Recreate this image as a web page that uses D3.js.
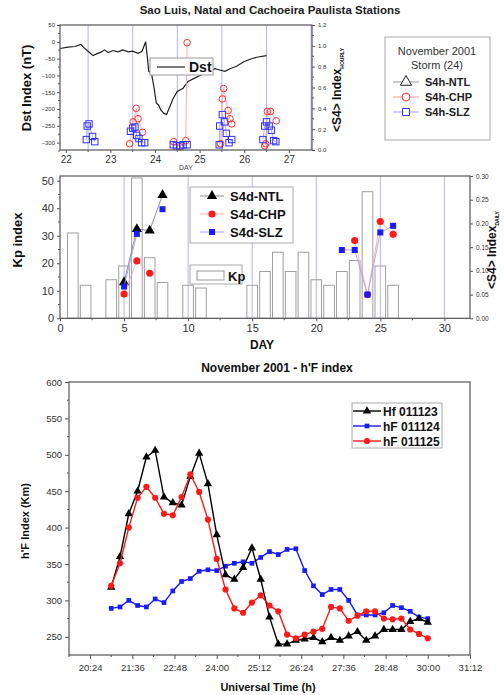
<!DOCTYPE html>
<html>
<head>
<meta charset="utf-8">
<script src="https://cdn.jsdelivr.net/npm/d3@7"></script>
<style>
body { margin: 0; background: #fff; }
svg { font-family: "Liberation Sans", Arial, sans-serif; }
</style>
</head>
<body>
<svg id="chart" width="504" height="695"></svg>
<script>
// ---------- panel 1: Dst and hourly S4, 22-27 Nov 2001 ----------
const dst = [[21.87,-20],[22.05,-16],[22.2,-14],[22.34,-8],[22.41,-18],[22.5,-28],[22.61,-41],[22.69,-36],
  [22.8,-30],[22.87,-24],[22.95,-32],[23.06,-26],[23.17,-30],[23.28,-24],[23.4,-30],[23.5,-28],[23.62,-34],
  [23.71,-28],[23.79,0],[23.83,-48],[23.86,-88],[23.92,-93],[23.98,-138],[24.03,-183],[24.08,-188],[24.13,-203],
  [24.2,-213],[24.26,-216],[24.33,-193],[24.41,-168],[24.5,-148],[24.63,-138],[24.74,-118],[24.89,-108],
  [25.04,-98],[25.2,-90],[25.34,-80],[25.45,-84],[25.57,-88],[25.68,-80],[25.83,-73],[25.98,-60],[26.13,-52],
  [26.28,-46],[26.5,-41]];
const s4hChp = [[23.43,0.06],[23.51,0.27],[23.58,0.40],[23.62,0.30],[23.72,0.17],
  [24.42,0.08],[24.56,0.03],[24.69,0.09],[24.72,1.03],
  [25.47,0.06],[25.51,0.49],[25.54,0.59],[25.64,0.38],[25.68,0.30],[25.72,0.25],
  [26.46,0.04],[26.48,0.06],[26.52,0.37],[26.59,0.37],[26.72,0.28]];
const s4hSlz = [[22.46,0.10],[22.48,0.23],[22.52,0.25],[22.6,0.13],[22.65,0.08],
  [23.45,0.18],[23.5,0.21],[23.55,0.22],[23.59,0.14],[23.64,0.11],[23.7,0.07],[23.77,0.07],
  [24.41,0.05],[24.48,0.04],[24.56,0.04],[24.63,0.05],[24.72,0.05],
  [25.44,0.05],[25.45,0.23],[25.51,0.34],[25.56,0.27],[25.6,0.16],[25.66,0.07],[25.72,0.10],
  [26.42,0.10],[26.46,0.23],[26.5,0.27],[26.56,0.23],[26.61,0.19],[26.66,0.09],[26.71,0.08]];
const nightLines1 = [22.5, 23.5, 24.5, 25.5, 26.5, 27.5];

// ---------- panel 2: Kp and daily S4, November 2001 ----------
const kpDays = [1, 2, 4, 5, 6, 7, 8, 10, 11, 15, 16, 17, 18, 19, 20, 21, 22, 23, 24, 25, 26];
const kpVals = [31, 12, 14, 19, 51, 22, 13, 12, 11, 12, 17, 24, 17, 24, 14, 12, 17, 21, 46, 19, 12];
const s4dDays = [5, 6, 7, 8, 22, 23, 24, 25, 26];
const s4dNtl = [0.076, 0.188, 0.185, 0.26, null, null, null, null, null];
const s4dChp = [0.051, 0.121, 0.095, null, null, 0.164, 0.05, 0.204, 0.177];
const s4dSlz = [0.067, 0.178, null, 0.23, 0.144, 0.144, 0.05, 0.181, 0.195];
const nightLines2 = [5, 10, 15, 20, 25, 30];

// ---------- panel 3: h'F, 15 min steps ----------
const hfHours = [21, 21.25, 21.5, 21.75, 22, 22.25, 22.5, 22.75, 23, 23.25, 23.5, 23.75, 24, 24.25, 24.5,
  24.75, 25, 25.25, 25.5, 25.75, 26, 26.25, 26.5, 26.75, 27, 27.25, 27.5, 27.75, 28, 28.25, 28.5, 28.75,
  29, 29.25, 29.5, 29.75, 30];
const hf23 = [318, 360, 419, 450, 497, 506, 442, 434, 431, 470, 502, 460, 390, 335, 329, 345, 372, 329, 277,
  240, 240, 245, 247, 249, 243, 249, 245, 251, 257, 245, 251, 260, 260, 260, 271, 275, 270];
const hf24 = [289, 291, 300, 293, 291, 302, 297, 313, 326, 330, 340, 342, 341, 347, 351, 353, 351, 359, 367,
  363, 370, 371, 341, 320, 308, 315, 315, 300, 280, 280, 280, 283, 293, 290, 285, 277, 275];
const hf25 = [320, 351, 400, 441, 456, 441, 419, 417, 442, 473, 449, 411, 357, 315, 289, 283, 297, 307, 293,
  285, 253, 248, 253, 257, 261, 291, 289, 272, 279, 285, 285, 275, 274, 275, 260, 254, 248];
const hfTicks = [20.4, 21.6, 22.8, 24, 25.2, 26.4, 27.6, 28.8, 30, 31.2];
const hfTickLabels = ["20:24", "21:36", "22:48", "24:00", "25:12", "26:24", "27:36", "28:48", "30:00", "31:12"];

const svg = d3.select("#chart");
const frameColor = "#555";
const nightColor = "#b4b4ff";

function frame(l, t, r, b) {
  svg.append("rect").attr("x", l).attr("y", t).attr("width", r - l).attr("height", b - t)
    .attr("fill", "none").attr("stroke", frameColor).attr("stroke-width", 1.2);
}

function styleAxis(g, size) {
  g.select(".domain").remove();
  g.selectAll(".tick line").attr("stroke", frameColor);
  g.selectAll(".tick text").attr("fill", "#333").style("font-size", size + "px");
}

function minorTicks(orient, scale, values, pos, len) {
  const g = svg.append("g");
  values.forEach(v => {
    const p = scale(v);
    if (orient === "bottom") g.append("line").attr("x1", p).attr("x2", p).attr("y1", pos).attr("y2", pos + len);
    if (orient === "left") g.append("line").attr("y1", p).attr("y2", p).attr("x1", pos).attr("x2", pos - len);
    if (orient === "right") g.append("line").attr("y1", p).attr("y2", p).attr("x1", pos).attr("x2", pos + len);
  });
  g.selectAll("line").attr("stroke", frameColor);
}

function rotLabel(x, y, text, size, sub, subSize) {
  const t = svg.append("text").attr("transform", `translate(${x},${y}) rotate(-90)`)
    .attr("text-anchor", "middle").style("font-size", size + "px").style("font-weight", "bold").attr("fill", "#111");
  t.append("tspan").text(text);
  if (sub) t.append("tspan").attr("dy", 3).style("font-size", subSize + "px").text(sub);
}

function marker(g, type, x, y, size, fill, stroke) {
  const sym = type === "triangle" ? d3.symbolTriangle : type === "square" ? d3.symbolSquare : d3.symbolCircle;
  g.append("path").attr("d", d3.symbol().type(sym).size(size)())
    .attr("transform", `translate(${x},${y})`)
    .attr("fill", fill).attr("stroke", stroke).attr("stroke-width", 1);
}

// =============== PANEL 1 ===============
{
  const L = 60, R = 312, T = 25, B = 150;
  const x = d3.scaleLinear().domain([21.87, 27.52]).range([L, R]);
  const yD = d3.scaleLinear().domain([-322, 50]).range([B, T]);
  const yS = d3.scaleLinear().domain([0, 1.2]).range([B, T]);

  svg.selectAll(".n1").data(nightLines1).join("line")
    .attr("x1", d => x(d)).attr("x2", d => x(d)).attr("y1", T).attr("y2", B)
    .attr("stroke", nightColor).attr("stroke-width", 1);

  svg.append("path").datum(dst)
    .attr("d", d3.line().x(d => x(d[0])).y(d => yD(d[1])))
    .attr("fill", "none").attr("stroke", "#222").attr("stroke-width", 1.2);

  // connect hourly points inside each night
  const groupLine = (data, color) => {
    const line = d3.line().defined(d => d).x(d => x(d[0])).y(d => yS(d[1]));
    const pts = [];
    data.forEach((d, i) => {
      if (i > 0 && d[0] - data[i - 1][0] > 0.3) pts.push(null);
      pts.push(d);
    });
    svg.append("path").datum(pts).attr("d", line).attr("fill", "none")
      .attr("stroke", color).attr("stroke-width", 0.8);
  };
  groupLine(s4hChp, "#ff9999");
  groupLine(s4hSlz, "#9999ff");

  const gp = svg.append("g");
  s4hChp.forEach(d => gp.append("circle").attr("cx", x(d[0])).attr("cy", yS(d[1])).attr("r", 3.3)
    .attr("fill", "none").attr("stroke", "#ff3030").attr("stroke-width", 1));
  s4hSlz.forEach(d => gp.append("rect").attr("x", x(d[0]) - 3.2).attr("y", yS(d[1]) - 3.2)
    .attr("width", 6.4).attr("height", 6.4)
    .attr("fill", "none").attr("stroke", "#3030ff").attr("stroke-width", 1));

  frame(L, T, R, B);

  const ax = svg.append("g").attr("transform", `translate(0,${B})`)
    .call(d3.axisBottom(x).tickValues([22, 23, 24, 25, 26, 27]).tickFormat(d3.format("d")).tickSize(3).tickPadding(3));
  styleAxis(ax, 10);
  minorTicks("bottom", x, [22.5, 23.5, 24.5, 25.5, 26.5], B, 2);

  const ay = svg.append("g").attr("transform", `translate(${L},0)`)
    .call(d3.axisLeft(yD).tickValues(d3.range(-300, 51, 50)).tickSize(3).tickPadding(2));
  styleAxis(ay, 6);
  minorTicks("left", yD, d3.range(-325, 50, 50), L, 2);

  const ar = svg.append("g").attr("transform", `translate(${R},0)`)
    .call(d3.axisRight(yS).tickValues(d3.range(0, 1.21, 0.2)).tickFormat(d3.format(".1f")).tickSize(3).tickPadding(3));
  styleAxis(ar, 6);
  minorTicks("right", yS, d3.range(0.1, 1.2, 0.2), R, 2);

  svg.append("text").attr("x", 270).attr("y", 14).attr("text-anchor", "middle")
    .style("font-size", "11.5px").style("font-weight", "bold").attr("fill", "#222")
    .text("Sao Luis, Natal and Cachoeira Paulista Stations");
  svg.append("text").attr("x", 186).attr("y", 170).attr("text-anchor", "middle")
    .style("font-size", "7px").attr("fill", "#444").text("DAY");
  rotLabel(31, 88, "Dst Index (nT)", 13);
  rotLabel(341, 90, "<S4> Index", 12, "HOURLY", 5);

  // Dst legend
  svg.append("rect").attr("x", 150).attr("y", 58).attr("width", 63).attr("height", 17)
    .attr("fill", "#fff").attr("stroke", "#999");
  svg.append("line").attr("x1", 157).attr("x2", 185).attr("y1", 67).attr("y2", 67)
    .attr("stroke", "#333").attr("stroke-width", 1.3);
  svg.append("text").attr("x", 189).attr("y", 72).style("font-size", "14px").style("font-weight", "bold")
    .attr("fill", "#111").text("Dst");

  // station legend
  svg.append("rect").attr("x", 385).attr("y", 37).attr("width", 105).attr("height", 103)
    .attr("fill", "#fff").attr("stroke", "#aaa");
  svg.append("text").attr("x", 437).attr("y", 55).attr("text-anchor", "middle")
    .style("font-size", "11px").attr("fill", "#333").text("November 2001");
  svg.append("text").attr("x", 437).attr("y", 69).attr("text-anchor", "middle")
    .style("font-size", "11px").attr("fill", "#333").text("Storm (24)");
  const leg1 = [["S4h-NTL", "triangle", "#222", "#999"], ["S4h-CHP", "circle", "#ff3030", "#ff9999"],
    ["S4h-SLZ", "square", "#3030ff", "#9999ff"]];
  const lg = svg.append("g");
  leg1.forEach((e, i) => {
    const yy = 82 + i * 15;
    lg.append("line").attr("x1", 393).attr("x2", 419).attr("y1", yy).attr("y2", yy).attr("stroke", e[3]);
    marker(lg, e[1], 406, yy, e[1] === "triangle" ? 55 : 48, "#fff", e[2]);
    lg.append("text").attr("x", 425).attr("y", yy + 4).style("font-size", "11px").style("font-weight", "bold")
      .attr("fill", "#222").text(e[0]);
  });
}

// =============== PANEL 2 ===============
{
  const L = 60, R = 470, T = 176, B = 318.3;
  const x = d3.scaleLinear().domain([0, 32]).range([L, R]);
  const yK = d3.scaleLinear().domain([0, 51.7]).range([B, T]);
  const yS = d3.scaleLinear().domain([0, 0.3]).range([B, T]);

  svg.selectAll(".n2").data(nightLines2).join("line")
    .attr("x1", d => x(d)).attr("x2", d => x(d)).attr("y1", T).attr("y2", B)
    .attr("stroke", nightColor).attr("stroke-width", 1);

  const bw = x(0.83) - x(0);
  svg.selectAll(".kp").data(kpDays).join("rect")
    .attr("x", d => x(d) - bw / 2).attr("width", bw)
    .attr("y", (d, i) => yK(kpVals[i])).attr("height", (d, i) => B - yK(kpVals[i]))
    .attr("fill", "none").attr("stroke", "#a0a0a0").attr("stroke-width", 1);

  const series = [[s4dNtl, "triangle", "#000", "#888", 45], [s4dChp, "circle", "#ff1a1a", "#ffaaaa", 40],
    [s4dSlz, "square", "#1a1aff", "#a0a0ff", 36]];
  series.forEach(s => {
    const pts = s4dDays.map((d, i) => s[0][i] == null ? null : [d, s[0][i]]);
    // a missing day breaks the line
    const cut = pts.map((p, i) => (p && i > 0 && s4dDays[i] - s4dDays[i - 1] > 1) ? [null, p] : [p]).flat();
    svg.append("path").datum(cut)
      .attr("d", d3.line().defined(d => d).x(d => x(d[0])).y(d => yS(d[1])))
      .attr("fill", "none").attr("stroke", s[3]).attr("stroke-width", 0.9);
    const g = svg.append("g");
    pts.filter(p => p).forEach(p => marker(g, s[1], x(p[0]), yS(p[1]), s[4], s[2], "none"));
  });

  frame(L, T, R, B);

  const ax = svg.append("g").attr("transform", `translate(0,${B})`)
    .call(d3.axisBottom(x).tickValues(d3.range(0, 31, 5)).tickSize(3).tickPadding(3));
  styleAxis(ax, 11);
  minorTicks("bottom", x, d3.range(2.5, 32, 5), B, 2);

  const ay = svg.append("g").attr("transform", `translate(${L},0)`)
    .call(d3.axisLeft(yK).tickValues(d3.range(0, 51, 10)).tickSize(3).tickPadding(3));
  styleAxis(ay, 11);
  minorTicks("left", yK, d3.range(5, 50, 10), L, 2);

  const ar = svg.append("g").attr("transform", `translate(${R},0)`)
    .call(d3.axisRight(yS).tickValues(d3.range(0, 0.301, 0.05)).tickFormat(d3.format(".2f")).tickSize(3).tickPadding(3));
  styleAxis(ar, 6.5);

  svg.append("text").attr("x", 262).attr("y", 349).attr("text-anchor", "middle")
    .style("font-size", "12px").style("font-weight", "bold").attr("fill", "#111").text("DAY");
  rotLabel(22, 240, "Kp index", 13);
  rotLabel(496, 250, "<S4> Index", 12, "DAILY", 5);

  // S4d legend
  svg.append("rect").attr("x", 190).attr("y", 187).attr("width", 103).attr("height", 56)
    .attr("fill", "#fff").attr("stroke", "#aaa");
  const lg = svg.append("g");
  [["S4d-NTL", 0], ["S4d-CHP", 1], ["S4d-SLZ", 2]].forEach((e, i) => {
    const s = series[e[1]], yy = 196 + i * 18;
    lg.append("line").attr("x1", 200).attr("x2", 224).attr("y1", yy).attr("y2", yy).attr("stroke", s[3]);
    marker(lg, s[1], 212, yy, s[4], s[2], "none");
    lg.append("text").attr("x", 230).attr("y", yy + 5).style("font-size", "13px").style("font-weight", "bold")
      .attr("fill", "#111").text(e[0]);
  });
  // Kp legend
  svg.append("rect").attr("x", 190).attr("y", 265).attr("width", 52).attr("height", 19)
    .attr("fill", "#fff").attr("stroke", "#aaa");
  svg.append("rect").attr("x", 197).attr("y", 271).attr("width", 27).attr("height", 9)
    .attr("fill", "#fff").attr("stroke", "#999");
  svg.append("text").attr("x", 228).attr("y", 281).style("font-size", "13px").style("font-weight", "bold")
    .attr("fill", "#111").text("Kp");
}

// =============== PANEL 3 ===============
{
  const L = 69, R = 470, T = 382, B = 655;
  const x = d3.scaleLinear().domain([19.8, 31.2]).range([L, R]);
  const y = d3.scaleLinear().domain([225, 600]).range([B, T]);

  const series = [["Hf 011123", hf23, "triangle", "#000", 30], ["hF 011124", hf24, "square", "#1a1aff", 22],
    ["hF 011125", hf25, "circle", "#ff1a1a", 30]];
  // draw order: blue, black, red on top like the original
  [1, 0, 2].forEach(k => {
    const s = series[k];
    const pts = hfHours.map((h, i) => [h, s[1][i]]);
    svg.append("path").datum(pts)
      .attr("d", d3.line().x(d => x(d[0])).y(d => y(d[1])))
      .attr("fill", "none").attr("stroke", s[3]).attr("stroke-width", 1.4);
    const g = svg.append("g");
    pts.forEach(p => marker(g, s[2], x(p[0]), y(p[1]), s[4], s[3], "none"));
  });

  frame(L, T, R, B);

  const ax = svg.append("g").attr("transform", `translate(0,${B})`)
    .call(d3.axisBottom(x).tickValues(hfTicks).tickFormat((d, i) => hfTickLabels[i]).tickSize(4).tickPadding(5));
  styleAxis(ax, 9.5);
  minorTicks("bottom", x, hfTicks.slice(0, -1).map(d => d + 0.6).concat([19.8]), B, 2);

  const ay = svg.append("g").attr("transform", `translate(${L},0)`)
    .call(d3.axisLeft(y).tickValues(d3.range(250, 601, 50)).tickSize(4).tickPadding(3));
  styleAxis(ay, 9.5);
  minorTicks("left", y, d3.range(275, 600, 50), L, 2);

  svg.append("text").attr("x", 277).attr("y", 372).attr("text-anchor", "middle")
    .style("font-size", "12px").style("font-weight", "bold").attr("fill", "#111")
    .text("November 2001 - h'F index");
  svg.append("text").attr("x", 268).attr("y", 691).attr("text-anchor", "middle")
    .style("font-size", "11px").style("font-weight", "bold").attr("fill", "#111")
    .text("Universal Time (h)");
  rotLabel(29, 521, "h'F Index (Km)", 11);

  svg.append("rect").attr("x", 352).attr("y", 403).attr("width", 90).attr("height", 45)
    .attr("fill", "#fff").attr("stroke", "#aaa");
  const lg = svg.append("g");
  series.forEach((s, i) => {
    const yy = 411 + i * 15;
    lg.append("line").attr("x1", 353).attr("x2", 381).attr("y1", yy).attr("y2", yy)
      .attr("stroke", s[3]).attr("stroke-width", 1.4);
    marker(lg, s[2], 367, yy, s[4], s[3], "none");
    lg.append("text").attr("x", 383).attr("y", yy + 4.5).style("font-size", "12px").style("font-weight", "bold")
      .attr("fill", "#111").text(s[0]);
  });
}
</script>
</body>
</html>
